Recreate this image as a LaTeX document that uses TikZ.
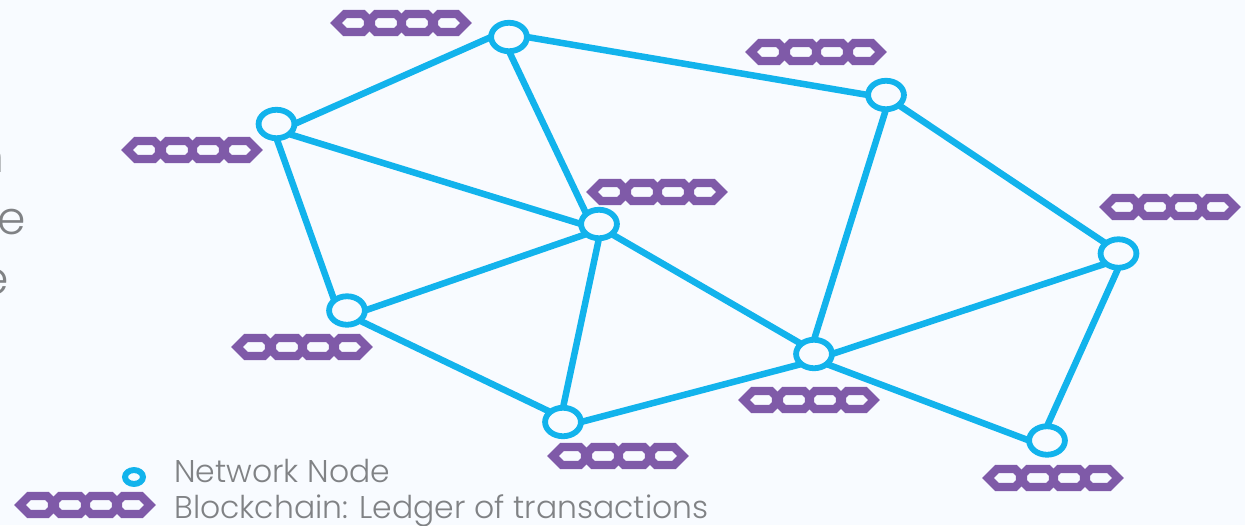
\documentclass[tikz,border=0pt]{standalone}
\usepackage{fontspec}
\setmainfont{Poppins Light}
\usetikzlibrary{shapes.geometric}
\definecolor{netblue}{HTML}{12B3EC}
\definecolor{chainpurple}{HTML}{7F5AA8}
\definecolor{paleback}{HTML}{F8FBFF}
\definecolor{legendgray}{HTML}{808285}
\tikzset{
	netnode/.style={ellipse,draw=netblue,line width=3.3pt,fill=paleback,minimum width=20.4pt,minimum height=16.2pt,inner sep=0pt,outer sep=0pt},
	keynode/.style={ellipse,draw=netblue,line width=3.4pt,fill=paleback,minimum width=10.2pt,minimum height=7.9pt,inner sep=0pt},
	netlink/.style={netblue,line width=3.7pt},
	legendtext/.style={anchor=west,inner sep=0pt,text=legendgray,font=\fontsize{17.9}{20}\selectfont},
	cuttext/.style={anchor=east,inner sep=0pt,text=legendgray,font=\fontsize{26}{30}\selectfont},
	ledger/.pic={
		\draw[chainpurple,line width=4.8pt,line join=miter,fill=paleback]
			(-65,0)--(-56,-9)--(-38,-9)--(-33,-4)--(-33,4)--(-38,9)--(-56,9)--cycle;
		\foreach \x in {-15,16}{
			\draw[chainpurple,line width=4.8pt,fill=paleback]
				(\x-15,-4)--(\x-10,-9)--(\x+10,-9)--(\x+15,-4)--(\x+15,4)--(\x+10,9)--(\x-10,9)--(\x-15,4)--cycle;
		}
		\draw[chainpurple,line width=4.8pt,line join=miter,fill=paleback]
			(65,0)--(56,-9)--(38,-9)--(33,-4)--(33,4)--(38,9)--(56,9)--cycle;
	}
}
\begin{document}
\begin{tikzpicture}[x=0.02cm,y=-0.02cm]
	\fill[paleback] (0,0) rectangle (1245,525);
	\useasboundingbox (0,0) rectangle (1245,525);

	%text cut off at the left edge
	\node[cuttext] (cutn) at (5,160){n};
	\node[cuttext] (cute) at (26,222){e};
	\node[cuttext] (cutf) at (9,282){e};

	%ledgers
	\foreach \x/\y in {401/23, 816/52, 192/150, 657/192, 1170/207, 302/347, 809/400, 618/456, 1053/478, 85/505}{
		\pic at (\x,\y) {ledger};
	}

	%network
	\node[netnode] (nodea) at (276.5,124){};
	\node[netnode] (nodeb) at (509,37){};
	\node[netnode] (nodec) at (886,95){};
	\node[netnode] (noded) at (1118.5,253.5){};
	\node[netnode] (nodee) at (599,224){};
	\node[netnode] (nodef) at (347,310.5){};
	\node[netnode] (nodeg) at (563,422){};
	\node[netnode] (nodeh) at (814,354){};
	\node[netnode] (nodei) at (1047,440.5){};
	\foreach \s/\t in {a.east/b.west, b.east/c.west, a.south east/e.west, b.south/e.north west, a.south/f.north west, f.east/e.south west, f.south east/g.north west, e.south/g.north, e.south east/h.north west, g.east/h.south west, h.north/c.south, c.south east/d.north west, h.east/d.south west, d.south/i.north, h.south east/i.west}{
		\draw[netlink] (node\s) -- (node\t);
	}

	%legend
	\node[keynode] (keynode) at (134,477){};
	\node[legendtext] (keyone) at (174,471){Network Node};
	\node[legendtext] (keytwo) at (174,511){Blockchain: Ledger of transactions};
\end{tikzpicture}
\end{document}
